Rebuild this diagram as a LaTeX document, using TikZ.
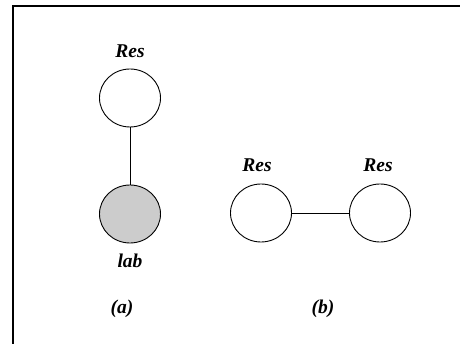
\documentclass[tikz,border=0pt]{standalone}
\usepackage{fontspec}
\setmainfont{Liberation Serif}
\usetikzlibrary{shapes.geometric}
\begin{document}
\begin{tikzpicture}[x=1pt,y=-1pt,
  vertex/.style={draw,line width=0.9pt,ellipse,minimum width=61pt,minimum height=58pt,inner sep=0pt},
  observed/.style={vertex,fill=black!20},
  tag/.style={anchor=base,inner sep=0pt,font=\fontsize{19.5}{19.5}\selectfont\bfseries\itshape},
  edge/.style={line width=0.9pt}]
\useasboundingbox (0,0) rectangle (460,344);
% frame (top and left edges)
\draw[line width=2.2pt] (13,344) -- (13,6) -- (460,6);
% (a) resource over label
\node[vertex]   (ra) at (130,98)  {};
\node[observed] (la) at (130,214) {};
\draw[edge] (ra) -- (la);
\node[tag] (tra) at (130,58)  {Res};
\node[tag] (tla) at (130,268) {lab};
\node[tag] (ca)  at (122,313) {(a)};
% (b) two resources
\node[vertex] (rb1) at (261,213) {};
\node[vertex] (rb2) at (380,213) {};
\draw[edge] (rb1) -- (rb2);
\node[tag] (trb1) at (257,172) {Res};
\node[tag] (trb2) at (378,172) {Res};
\node[tag] (cb)   at (323,313) {(b)};
\end{tikzpicture}
\end{document}
